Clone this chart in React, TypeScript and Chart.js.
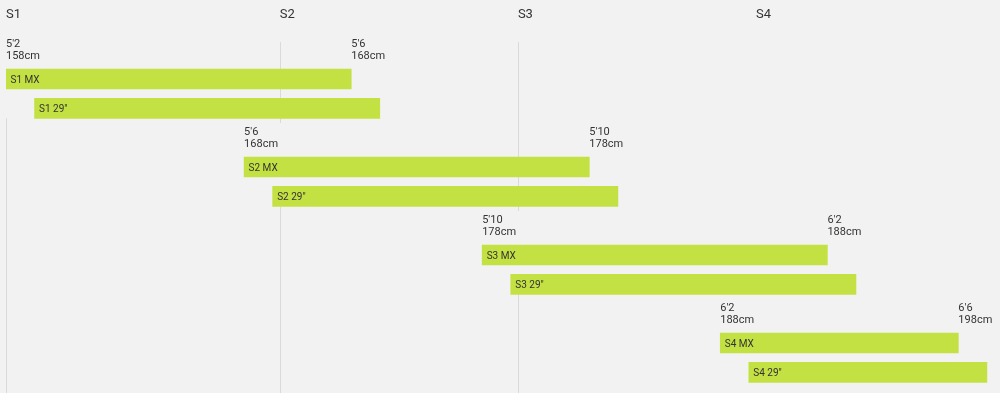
import React, { useEffect, useRef } from 'react';
import { Chart, registerables } from 'chart.js';

Chart.register(...registerables);

// Rows: one label row per size, then the MX and 29" bars
const rowLabels = ['S1', 'S1 MX', 'S1 29"', 'S2', 'S2 MX', 'S2 29"', 'S3', 'S3 MX', 'S3 29"', 'S4', 'S4 MX', 'S4 29"'];
const barRanges: ([number, number] | null)[] = [
  null, [158, 172.5], [159.2, 173.7],
  null, [168, 182.5], [169.2, 183.7],
  null, [178, 192.5], [179.2, 193.7],
  null, [188, 198], [189.2, 199.2],
];
const sizeNames = ['S1', 'S2', 'S3', 'S4'];
const sizeTickValues = [158, 169.5, 179.5, 189.5];
const gridValues = [158, 169.5, 179.5];
const fromFeet = ["5'2", "5'6", "5'10", "6'2"];
const fromCm = ['158cm', '168cm', '178cm', '188cm'];
const toFeet = ["5'6", "5'10", "6'2", "6'6"];
const toCm = ['168cm', '178cm', '188cm', '198cm'];

const TEXT = '#333333';
const FONT = 'Roboto, "Noto Sans", sans-serif';

const sectionLines = {
  id: 'sectionLines',
  beforeDatasetsDraw(chart: any) {
    const { ctx, chartArea, scales } = chart;
    const x = scales.x;
    const y = scales.y;
    const step = y.getPixelForValue(1) - y.getPixelForValue(0);
    const top = chartArea.top + 7;
    const bottom = chart.height;
    ctx.save();
    ctx.strokeStyle = '#dadada';
    ctx.lineWidth = 1;
    gridValues.forEach((v, k) => {
      const px = Math.round(x.getPixelForValue(v)) + 0.5;
      const hideStart = y.getPixelForValue(3 * k) - step / 2;
      const hideEnd = y.getPixelForValue(3 * k + 2) + 10;
      ctx.beginPath();
      if (hideStart > top) {
        ctx.moveTo(px, top);
        ctx.lineTo(px, hideStart);
      }
      ctx.moveTo(px, Math.max(top, hideEnd));
      ctx.lineTo(px, bottom);
      ctx.stroke();
    });
    ctx.restore();
  },
};

const textLabels = {
  id: 'textLabels',
  afterDatasetsDraw(chart: any) {
    const { ctx, scales } = chart;
    const x = scales.x;
    const y = scales.y;
    const meta = chart.getDatasetMeta(0);
    ctx.save();
    ctx.fillStyle = TEXT;
    ctx.textAlign = 'left';
    ctx.textBaseline = 'alphabetic';
    // bar names inside bars
    ctx.font = `10px ${FONT}`;
    meta.data.forEach((el: any, i: number) => {
      if (!barRanges[i]) return;
      const left = Math.min(el.x, el.base);
      ctx.fillText(rowLabels[i], left + 4.5, el.y + 3.6);
    });
    // size range labels
    ctx.font = `11px ${FONT}`;
    sizeNames.forEach((_, k) => {
      const mx = barRanges[3 * k + 1] as [number, number];
      const c = y.getPixelForValue(3 * k);
      const xs = x.getPixelForValue(mx[0]);
      const xe = x.getPixelForValue(mx[1]);
      ctx.fillText(fromFeet[k], xs, c - 2.8);
      ctx.fillText(fromCm[k], xs, c + 9.5);
      ctx.fillText(toFeet[k], xe, c - 2.8);
      ctx.fillText(toCm[k], xe, c + 9.5);
    });
    ctx.restore();
  },
};

export default function App() {
  const canvasRef = useRef<HTMLCanvasElement | null>(null);

  useEffect(() => {
    document.body.style.margin = '0';
    document.body.style.background = '#f2f2f2';
    if (!canvasRef.current) return;
    const chart = new Chart(canvasRef.current, {
      type: 'bar',
      data: {
        labels: rowLabels,
        datasets: [
          {
            data: barRanges as any,
            backgroundColor: '#c3e142',
            borderWidth: 0,
            borderSkipped: false,
            barThickness: 20,
          },
        ],
      },
      options: {
        indexAxis: 'y',
        animation: false,
        responsive: true,
        maintainAspectRatio: false,
        layout: { padding: { left: 6, right: 0, top: 0, bottom: 6 } },
        plugins: { legend: { display: false }, tooltip: { enabled: false } },
        scales: {
          x: {
            type: 'linear',
            position: 'top',
            min: 158,
            max: 199.75,
            grid: { display: false, drawTicks: false },
            border: { display: false },
            afterBuildTicks: (s: any) => {
              s.ticks = sizeTickValues.map((v) => ({ value: v }));
            },
            afterFit: (s: any) => {
              s.height = 35;
              s.paddingLeft = 0;
              s.paddingRight = 0;
            },
            ticks: {
              align: 'start',
              padding: 12,
              color: TEXT,
              autoSkip: false,
              maxRotation: 0,
              font: { family: FONT, size: 13 },
              callback: (_v: any, i: number) => sizeNames[i],
            },
          },
          y: {
            type: 'category',
            display: false,
          },
        },
      },
      plugins: [sectionLines, textLabels],
    } as any);
    return () => chart.destroy();
  }, []);

  return (
    <div style={{ width: '100%', height: 393, background: '#f2f2f2', position: 'relative' }}>
      <canvas ref={canvasRef} />
    </div>
  );
}
